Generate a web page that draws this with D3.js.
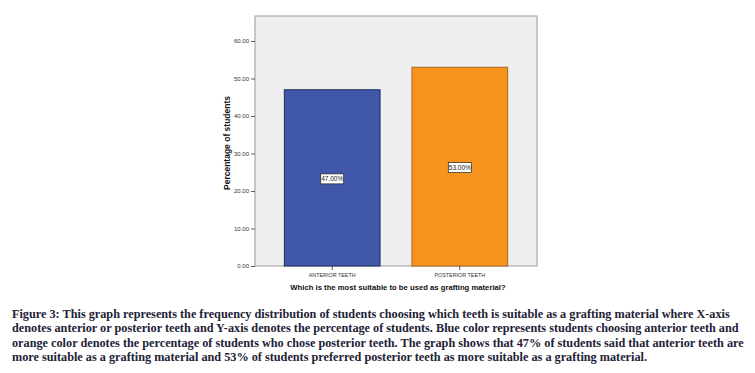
<!DOCTYPE html>
<html>
<head>
<meta charset="utf-8">
<script src="https://cdn.jsdelivr.net/npm/d3@7"></script>
<style>
  body { margin: 0; background: #fff; }
  .axis text { font-family: Arial, "Liberation Sans", sans-serif; font-size: 6px; fill: #333; }
  .x.axis text { font-size: 5.4px; }
  .axis path, .axis line { stroke: #333; stroke-width: 0.8; }
</style>
</head>
<body>
<script>
const categories = ['ANTERIOR TEETH', 'POSTERIOR TEETH']
const percents = [47.0, 53.0]
const barColors = ['#4158aa', '#f7941e']
const barStrokes = ['#1d2a5c', '#a8651c']
const yTicks = [0, 10, 20, 30, 40, 50, 60]
const captionLines = [
  'Figure 3: This graph represents the frequency distribution of students choosing which teeth is suitable as a grafting material where X-axis',
  'denotes anterior or posterior teeth and Y-axis denotes the percentage of students. Blue color represents students choosing anterior teeth and',
  'orange color denotes the percentage of students who chose posterior teeth. The graph shows that 47% of students said that anterior teeth are',
  'more suitable as a grafting material and 53% of students preferred posterior teeth as more suitable as a grafting material.'
]

const width = 755
const height = 373
const plot = {left: 255, right: 537, top: 16, bottom: 266}

const svg = d3.select('body')
  .append('svg')
  .attr('width', width)
  .attr('height', height)

// panel background
svg.append('rect')
  .attr('x', plot.left)
  .attr('y', plot.top)
  .attr('width', plot.right - plot.left)
  .attr('height', plot.bottom - plot.top)
  .attr('fill', '#efefef')
  .attr('stroke', '#9a9a9a')
  .attr('stroke-width', 1)

const xscale = d3.scaleBand()
  .domain(categories)
  .range([plot.left, plot.right])
  .paddingInner(0.25)
  .paddingOuter(0.23)

const yscale = d3.scaleLinear()
  .domain([0, 66.67])
  .range([plot.bottom, plot.top])

const g_bars = svg.append('g')

g_bars.selectAll('rect')
  .data(categories)
  .join('rect')
  .attr('x', (d) => xscale(d))
  .attr('y', (d, i) => yscale(percents[i]))
  .attr('width', xscale.bandwidth())
  .attr('height', (d, i) => yscale(0) - yscale(percents[i]))
  .attr('fill', (d, i) => barColors[i])
  .attr('stroke', (d, i) => barStrokes[i])
  .attr('stroke-width', 1)

// value labels in the middle of each bar
const labels = svg.append('g')
  .selectAll('g')
  .data(categories)
  .join('g')
  .attr('transform', (d, i) => `translate(${xscale(d) + xscale.bandwidth() / 2},${yscale(percents[i] / 2) + 1})`)

labels.append('rect')
  .attr('x', -11.5)
  .attr('y', -5)
  .attr('width', 23)
  .attr('height', 10)
  .attr('fill', '#fff')
  .attr('stroke', '#222')
  .attr('stroke-width', 0.7)

labels.append('text')
  .attr('text-anchor', 'middle')
  .attr('dy', '0.35em')
  .attr('font-family', 'Arial, "Liberation Sans", sans-serif')
  .attr('font-size', 6.5)
  .attr('fill', '#222')
  .text((d, i) => d3.format('.2f')(percents[i]) + '%')

const yaxis = d3.axisLeft(yscale)
  .tickValues(yTicks)
  .tickFormat(d3.format('.2f'))
  .tickSize(4)
  .tickPadding(2)
svg.append('g')
  .attr('class', 'y axis')
  .attr('transform', `translate(${plot.left},0)`)
  .call(yaxis)
  .call((g) => g.select('.domain').remove())

const xaxis = d3.axisBottom(xscale).tickSize(4).tickPadding(3)
svg.append('g')
  .attr('class', 'x axis')
  .attr('transform', `translate(0,${plot.bottom})`)
  .call(xaxis)
  .call((g) => g.select('.domain').remove())

// axis titles
svg.append('text')
  .attr('transform', `translate(230,${(plot.top + plot.bottom) / 2 + 2}) rotate(-90)`)
  .attr('text-anchor', 'middle')
  .attr('font-family', 'Arial, "Liberation Sans", sans-serif')
  .attr('font-weight', 'bold')
  .attr('font-size', 8.5)
  .attr('fill', '#111')
  .text('Percentage of students')

svg.append('text')
  .attr('x', 398)
  .attr('y', 290)
  .attr('text-anchor', 'middle')
  .attr('font-family', 'Arial, "Liberation Sans", sans-serif')
  .attr('font-weight', 'bold')
  .attr('font-size', 7.7)
  .attr('fill', '#111')
  .text('Which is the most suitable to be used as grafting material?')

// figure caption, sized so the widest line fits the page
const caption = svg.append('g')
  .selectAll('text')
  .data(captionLines)
  .join('text')
  .attr('x', 12)
  .attr('y', (d, i) => 318 + i * 14.3)
  .attr('font-family', '"Liberation Serif", serif')
  .attr('font-weight', 'bold')
  .attr('font-size', 12)
  .attr('fill', '#222236')
  .text((d) => d)

const widest = d3.max(caption.nodes(), (n) => n.getComputedTextLength())
caption.attr('font-size', 12 * 732 / widest)
</script>
</body>
</html>
